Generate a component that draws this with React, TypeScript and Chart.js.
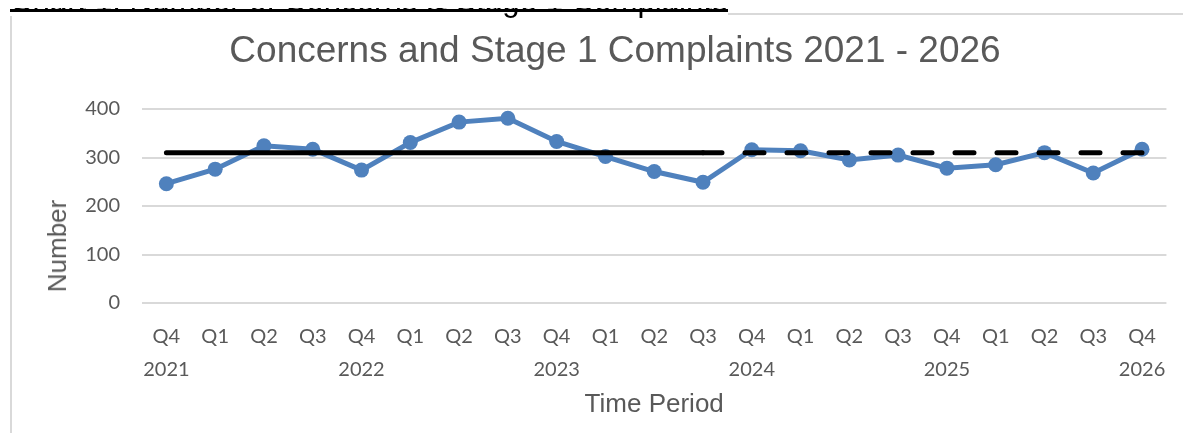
import React, { useEffect, useRef } from "react";
import { Chart, registerables } from "chart.js";

Chart.register(...registerables);

const quarterLabels: string[][] = [
  ["Q4", "2021"], ["Q1"], ["Q2"], ["Q3"],
  ["Q4", "2022"], ["Q1"], ["Q2"], ["Q3"],
  ["Q4", "2023"], ["Q1"], ["Q2"], ["Q3"],
  ["Q4", "2024"], ["Q1"], ["Q2"], ["Q3"],
  ["Q4", "2025"], ["Q1"], ["Q2"], ["Q3"],
  ["Q4", "2026"],
];

const complaints: number[] = [
  246, 276, 324, 317, 274, 331, 373, 381, 333, 302, 271, 249,
  316, 314, 295, 305, 278, 285, 310, 268, 317,
];

const meanSolid: (number | null)[] = [
  310, 310, 310, 310, 310, 310, 310, 310, 310, 310, 310, 310,
  null, null, null, null, null, null, null, null, null,
];

const meanDashed: (number | null)[] = [
  null, null, null, null, null, null, null, null, null, null, null, 310,
  310, 310, 310, 310, 310, 310, 310, 310, 310,
];

const yTicks = { min: 0, max: 400, step: 100 };

const chartTitle = "Concerns and Stage 1 Complaints 2021 - 2026";
const heading = "Chart 1: Number of Concerns & Stage 1 Complaints";
const yTitle = "Number";
const xTitle = "Time Period";

const GREY = "#595959";
const BLUE = "#4f81bd";
const ARIAL = "'Liberation Sans', Arial, sans-serif";
const TICKFONT = "Lato, 'Open Sans', sans-serif";

export default function App() {
  const canvasRef = useRef<HTMLCanvasElement | null>(null);

  useEffect(() => {
    document.documentElement.style.overflow = "hidden";
    const canvas = canvasRef.current;
    if (!canvas) return;
    const chart = new Chart(canvas, {
      type: "line",
      data: {
        labels: quarterLabels,
        datasets: [
          {
            label: "Mean",
            data: meanSolid,
            borderColor: "#000000",
            backgroundColor: "#000000",
            borderWidth: 5,
            borderCapStyle: "round",
            pointRadius: 0,
            pointHoverRadius: 0,
            order: 0,
          },
          {
            label: "Mean (projected)",
            data: meanDashed,
            borderColor: "#000000",
            backgroundColor: "#000000",
            borderWidth: 5,
            borderCapStyle: "round",
            borderDash: [19, 23],
            pointRadius: 0,
            pointHoverRadius: 0,
            order: 0,
          },
          {
            label: "Concerns and Stage 1 Complaints",
            data: complaints,
            borderColor: BLUE,
            backgroundColor: BLUE,
            borderWidth: 5,
            pointRadius: 7.5,
            pointBorderWidth: 0,
            pointBackgroundColor: BLUE,
            tension: 0,
            order: 1,
          },
        ],
      },
      options: {
        responsive: false,
        animation: false,
        devicePixelRatio: 1,
        layout: { padding: { left: 47, right: 11, top: 0, bottom: 10 } },
        plugins: {
          legend: { display: false },
          tooltip: { enabled: false },
          title: {
            display: true,
            text: chartTitle,
            color: GREY,
            font: { family: ARIAL, size: 37, weight: "normal", lineHeight: 1.2 },
            padding: { top: 16.8, bottom: 34.8 },
          },
        },
        scales: {
          x: {
            offset: true,
            grid: { display: false, drawTicks: false },
            border: { display: false },
            ticks: {
              color: GREY,
              font: { family: TICKFONT, size: 20, lineHeight: 33 / 20 },
              padding: 17.5,
              maxRotation: 0,
              autoSkip: false,
            },
            title: {
              display: true,
              text: xTitle,
              color: GREY,
              font: { family: ARIAL, size: 26, lineHeight: 1.2 },
              padding: { top: 0, bottom: 10.4 },
            },
            afterFit: (scale: any) => {
              scale.height = 128;
            },
          },
          y: {
            min: yTicks.min,
            max: yTicks.max,
            border: { display: false },
            grid: { color: "#d9d9d9", lineWidth: 2, drawTicks: false },
            ticks: {
              stepSize: yTicks.step,
              color: GREY,
              font: { family: TICKFONT, size: 20 },
              padding: 22,
            },
            title: { display: false },
            afterFit: (scale: any) => {
              scale.width = 84;
            },
          },
        },
      },
    });
    return () => chart.destroy();
  }, []);

  return (
    <div style={{ position: "relative", width: 1175, height: 425 }}>
      <div
        style={{
          position: "absolute",
          left: 2,
          top: 5,
          width: 1300,
          height: 500,
          borderLeft: "2px solid #d9d9d9",
          borderTop: "2px solid #d9d9d9",
          boxSizing: "border-box",
        }}
      />
      <div
        style={{
          position: "absolute",
          left: 2,
          top: -23.4,
          height: 31,
          background: "#ffffff",
          fontFamily: ARIAL,
          fontSize: 31.2,
          lineHeight: "31.2px",
          color: "#000000",
          whiteSpace: "nowrap",
          zIndex: 2,
        }}
      >
        {heading}
        <div
          style={{
            position: "absolute",
            left: 0,
            right: 0,
            top: 24,
            height: 3,
            background: "#000000",
          }}
        />
      </div>
      <canvas
        ref={canvasRef}
        width={1172}
        height={428}
        style={{ position: "absolute", left: 3, top: 5, width: 1172, height: 428 }}
      />
      <div
        style={{
          position: "absolute",
          left: 49.3,
          top: 238,
          transform: "translate(-50%, -50%) rotate(-90deg)",
          fontFamily: ARIAL,
          fontSize: 26,
          lineHeight: "26px",
          color: GREY,
          whiteSpace: "nowrap",
          zIndex: 3,
        }}
      >
        {yTitle}
      </div>
    </div>
  );
}
